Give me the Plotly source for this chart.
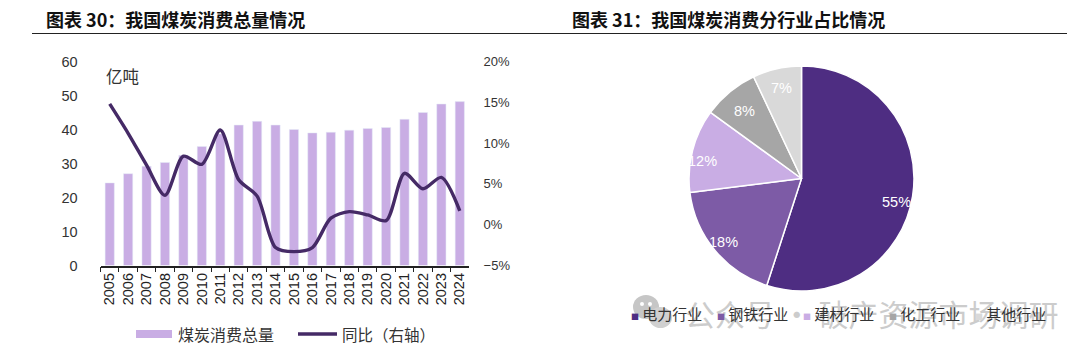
import plotly.graph_objects as go

years = [str(y) for y in range(2005, 2025)]
consumption = [24.3, 27.0, 29.2, 30.3, 32.4, 35.0, 38.7, 41.3, 42.4, 41.3, 40.0, 39.0, 39.2, 39.8, 40.3, 40.6, 43.0, 45.0, 47.5, 48.2]
yoy = [14.8, 11.2, 7.3, 3.6, 8.4, 7.4, 11.6, 5.5, 3.5, -2.8, -3.3, -2.8, 0.8, 1.6, 1.2, 0.5, 6.3, 4.4, 5.8, 1.7]
sectors = ["电力行业", "钢铁行业", "建材行业", "化工行业", "其他行业"]
shares = [55, 18, 12, 8, 7]
sector_colors = ["#4E2D82", "#7D5BA6", "#C9ADE4", "#A6A6A6", "#D9D9D9"]
left_title = "图表 30：我国煤炭消费总量情况"
right_title = "图表 31：我国煤炭消费分行业占比情况"
unit = "亿吨"
watermark = "公众号 · 破产资源市场调研"
bar_name = "煤炭消费总量"
line_name = "同比（右轴）"
share_label_px = [(896, 202), (723, 242), (702, 161), (744, 111), (781, 88)]
sector_legend_px = [629, 715, 801, 887, 973]

W, H = 1080, 355
px = lambda x: x / W
py = lambda y: 1 - y / H
CJK = "Noto Sans CJK SC"
SANS = "Liberation Sans, Arial, sans-serif"
BAR = "#C9ADE4"
LINE = "#452A66"

fig = go.Figure()
fig.add_bar(x=years, y=consumption, name=bar_name, marker_color=BAR, yaxis="y", showlegend=False)
fig.add_scatter(x=years, y=yoy, name=line_name, mode="lines", yaxis="y2", showlegend=False,
                line=dict(color=LINE, width=3.4, shape="spline", smoothing=0.8))
fig.add_pie(labels=sectors, values=shares, sort=False, direction="clockwise", rotation=0,
            marker=dict(colors=sector_colors, line=dict(color="white", width=1.5)),
            textinfo="none", hoverinfo="label+percent", showlegend=False,
            domain=dict(x=[px(689), px(914)], y=[py(291), py(66)]))

def note(x, y, text, size, color, family=CJK, xanchor="center"):
    return dict(xref="paper", yref="paper", x=px(x), y=py(y), text=text, showarrow=False, xanchor=xanchor,
                yanchor="middle", font=dict(family=family, size=size, color=color))

annotations = [
    note(44, 19, f"<b>{left_title}</b>", 18, "#111111", xanchor="left"),
    note(570, 19, f"<b>{right_title}</b>", 18, "#111111", xanchor="left"),
    note(122, 76, unit, 16.5, "#333333"),
    note(683, 313, watermark, 30, "#CCCCCC", xanchor="left"),
    note(176, 334, bar_name, 16, "#333333", xanchor="left"),
    note(340, 334, line_name, 15.5, "#333333", xanchor="left"),
]
for v, (lx, ly) in zip(shares, share_label_px):
    annotations.append(note(lx, ly, f"{v}%", 14.5, "white", family=SANS))
for name, color, lx in zip(sectors, sector_colors, sector_legend_px):
    annotations.append(note(lx, 313, f"<span style='color:{color};font-size:8px'>■</span> {name}", 15, "#333333", xanchor="left"))

def dot(x0, x1, y0, y1, color):
    return dict(type="circle", xref="paper", yref="paper", x0=px(x0), x1=px(x1), y0=py(y1), y1=py(y0),
                fillcolor=color, line_width=0, layer="above")

shapes = [
    dict(type="line", xref="paper", yref="paper", x0=px(32), x1=px(1067), y0=py(33.5), y1=py(33.5),
         line=dict(color="#222222", width=1)),
    dot(633, 659, 295, 319, "#C6C6C6"),
    dot(649, 672, 307, 328, "#D0D0D0"),
    dot(640, 644, 302, 306, "white"),
    dot(648, 652, 302, 306, "white"),
    dict(type="rect", xref="paper", yref="paper", x0=px(136), x1=px(172), y0=py(338), y1=py(330),
         fillcolor=BAR, line_width=0),
    dict(type="line", xref="paper", yref="paper", x0=px(298), x1=px(337), y0=py(334), y1=py(334),
         line=dict(color=LINE, width=3.4)),
]

fig.update_layout(
    width=W, height=H, autosize=False, margin=dict(l=0, r=0, t=0, b=0, autoexpand=False),
    paper_bgcolor="white", plot_bgcolor="white", bargap=0.5, showlegend=False,
    font=dict(family=SANS, size=14, color="#333333"),
    xaxis=dict(domain=[px(100.5), px(469)], type="category", tickmode="linear", dtick=1, tickson="boundaries",
               ticks="outside", ticklen=5, tickcolor="#222222", showline=True, linecolor="#222222", linewidth=1.5,
               tickangle=-90, showgrid=False, tickfont=dict(size=14.5, color="#222222"), anchor="y"),
    yaxis=dict(domain=[py(265.5), py(61.5)], range=[0, 60], dtick=10, showgrid=False, zeroline=False,
               showline=False, ticks="outside", ticklen=19, tickcolor="rgba(0,0,0,0)",
               tickfont=dict(size=14.5, color="#333333")),
    yaxis2=dict(overlaying="y", side="right", range=[-5, 20], dtick=5, ticksuffix="%", showgrid=False,
                zeroline=False, showline=False, ticks="outside", ticklen=11, tickcolor="rgba(0,0,0,0)",
                tickfont=dict(size=13, color="#333333"), anchor="x"),
    annotations=annotations, shapes=shapes,
)

fig.write_html("out.html", config=dict(displayModeBar=False),
               post_script="document.body.style.margin='0';document.body.style.overflow='hidden';")
